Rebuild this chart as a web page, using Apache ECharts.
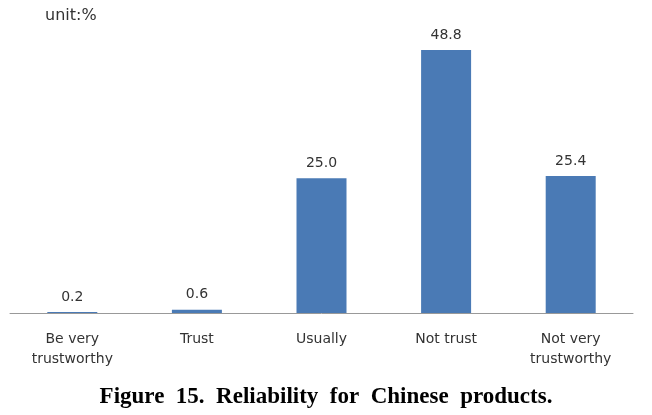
<!DOCTYPE html>
<html><head><meta charset="utf-8">
<script src="https://cdn.jsdelivr.net/npm/echarts@6/dist/echarts.min.js"></script>
<style>html,body{margin:0;padding:0;background:#fff}#c{width:652px;height:415px}</style>
</head><body><div id="c"></div>
<script>
const categories = ['Be very\ntrustworthy', 'Trust', 'Usually', 'Not trust', 'Not very\ntrustworthy'];
const values = [0.2, 0.6, 25.0, 48.8, 25.4];
const unitLabel = 'unit:%';
const caption = 'Figure  15.  Reliability  for  Chinese  products.';

const chart = echarts.init(document.getElementById('c'));
chart.setOption({
  animation: false,
  backgroundColor: '#fff',
  grid: {left: 10, right: 19, top: 43.5, bottom: 102, containLabel: false},
  graphic: [
    {type: 'text', left: 45, top: 8, style: {text: unitLabel, font: '16px "DejaVu Sans", sans-serif', fill: '#333'}},
    {type: 'text', left: 'center', top: 386, style: {text: caption, font: 'bold 23px "Liberation Serif", serif', fill: '#000'}}
  ],
  xAxis: {
    type: 'category', data: categories,
    axisLine: {lineStyle: {color: '#999', width: 1}},
    axisTick: {show: false},
    axisLabel: {color: '#333', fontSize: 14, fontFamily: '"DejaVu Sans", sans-serif', margin: 16, lineHeight: 20, interval: 0}
  },
  yAxis: {type: 'value', min: 0, max: 50, show: false, splitLine: {show: false}},
  series: [{
    type: 'bar', data: values, barWidth: 50,
    itemStyle: {color: '#4a7ab5'},
    label: {show: true, position: 'top', distance: 8, formatter: p => p.value.toFixed(1), color: '#333', fontSize: 14, fontFamily: '"DejaVu Sans", sans-serif'}
  }]
});
</script></body></html>
